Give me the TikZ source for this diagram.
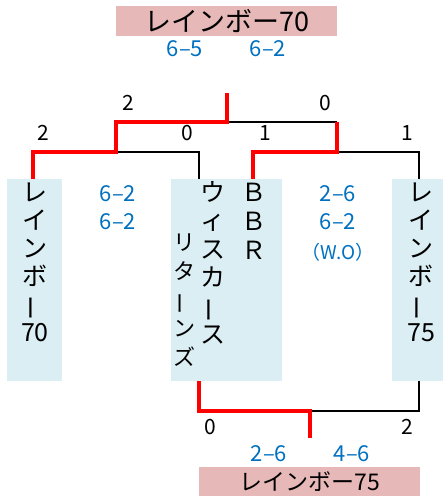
\documentclass[tikz,border=0pt]{standalone}
\usepackage{fontspec}
\setmainfont{Noto Sans CJK JP}
\usepackage{xcolor}
\definecolor{scoreblue}{RGB}{0,112,192}
\definecolor{titlepink}{RGB}{230,184,183}
\definecolor{teamblue}{RGB}{218,238,243}
\usetikzlibrary{positioning}
\newcommand{\vchoon}{\rotatebox[origin=c]{90}{ー}}

\begin{document}
\begin{tikzpicture}[
            x=1pt, y=-1pt,
            teambox/.style={fill=teamblue, minimum width=55pt, minimum height=202pt, inner sep=0pt},
            titlebox/.style={fill=titlepink, minimum width=221pt, inner sep=0pt},
            vchar/.style={inner sep=0pt, text height=0.8em, text depth=0.12em, font=\fontsize{25}{25}\selectfont},
            gamescore/.style={inner sep=0pt, font=\fontsize{21}{21}\selectfont},
            setscore/.style={inner sep=0pt, text=scoreblue, font=\fontsize{22}{22}\selectfont},
            winline/.style={red, line width=4.5pt},
            loseline/.style={black, line width=2pt}
            ]
            \useasboundingbox (0,0) rectangle (443,496);

            % Team boxes
            \node[teambox] (r70) at (34.5,280) {};
            \node[teambox, minimum width=111pt] (mid) at (226.5,280) {};
            \node[teambox] (r75) at (419.5,280) {};

            % Winner and third place
            \node[titlebox, minimum height=30pt, font=\fontsize{27}{27}\selectfont] (champ) at (226.5,21) {レインボー70};
            \node[titlebox, minimum height=29pt, font=\fontsize{23}{23}\selectfont] (third) at (309.5,481.5) {レインボー75};

            % Team names, one character per line
            \foreach \ch [count=\i from 0] in {レ,イ,ン,ボ,\vchoon,70} {
                \node[vchar] (lname\i) at (35, 198+28*\i) {\ch};
            }
            \foreach \ch [count=\i from 0] in {ウ,ィ,ス,カ,\vchoon,ス} {
                \node[vchar] (wname\i) at (213, 198+28.5*\i) {\ch};
            }
            \foreach \ch [count=\i from 0] in {リ,タ,\vchoon,ン,ズ} {
                \node[vchar, font=\fontsize{22}{22}\selectfont] (rname\i) at (184, 247+28.7*\i) {\ch};
            }
            \foreach \ch [count=\i from 0] in {Ｂ,Ｂ,Ｒ} {
                \node[vchar] (bname\i) at (254, 198+29*\i) {\ch};
            }
            \foreach \ch [count=\i from 0] in {レ,イ,ン,ボ,\vchoon,75} {
                \node[vchar] (rrname\i) at (421, 198+28*\i) {\ch};
            }

            % Bracket points
            \coordinate (qa) at (33,179);
            \coordinate (qb) at (199,179);
            \coordinate (qc) at (253,179);
            \coordinate (qd) at (419,179);
            \coordinate (qb2) at (199,381);
            \coordinate (qd2) at (419,381);
            \coordinate (sfl) at (116,152);
            \coordinate (sfr) at (337,152);
            \coordinate (fin) at (227,122);
            \coordinate (fintop) at (227,93);
            \coordinate (thd) at (310,411);
            \coordinate (thdend) at (310,438);

            % Bracket lines
            \draw[loseline] (sfl) -- (qb |- sfl) -- (qb);
            \draw[loseline] (sfr) -- (qd |- sfr) -- (qd);
            \draw[loseline] (fin) -- (sfr |- fin);
            \draw[loseline] (thd) -- (qd2 |- thd) -- (qd2);
            \draw[winline] (qa) -- (qa |- sfl) -- (sfl) -- (sfl |- fin) -- (fin) -- (fintop);
            \draw[winline] (qc) -- (qc |- sfr) -- (sfr) -- (sfr |- fin);
            \draw[winline] (qb2) -- (qb2 |- thd) -- (thd) -- (thdend);

            % Game scores
            \foreach \name/\x/\y/\txt in {
                ga/43/133/2, gb/187/133/0, gc/265/133/1, gd/407/133/1,
                ge/128/103/2, gf/325/103/0, gg/210/427/0, gh/407/427/2
            } {
                \node[gamescore] (\name) at (\x,\y) {\txt};
            }

            % Set scores
            \foreach \name/\x/\y/\txt in {
                sa/185/49/6–5, sb/268/49/6–2,
                sc/118/194/6–2, sd/118/222/6–2,
                se/338/194/2–6, sf/338/222/6–2,
                sg/269/454/2–6, sh/352/454/4–6
            } {
                \node[setscore] (\name) at (\x,\y) {\txt};
            }
            \node[setscore, font=\fontsize{19}{19}\selectfont] (wo) at (338,252) {（W.O）};
\end{tikzpicture}
\end{document}
